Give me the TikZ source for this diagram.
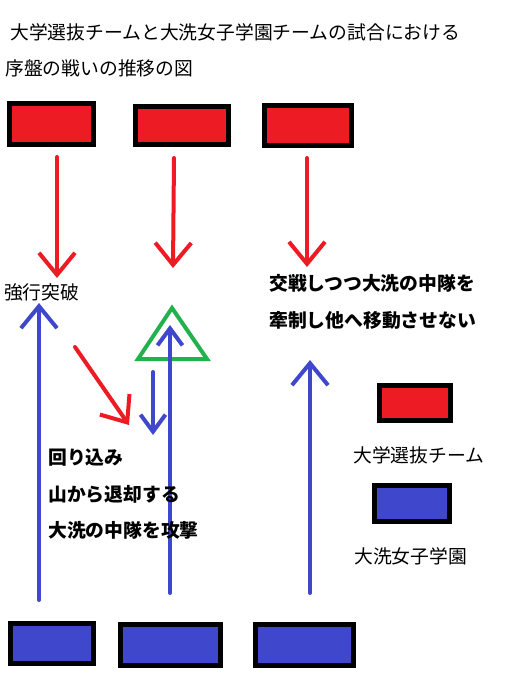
\documentclass[tikz,border=0pt]{standalone}
\usepackage{fontspec}
\setmainfont{Noto Sans CJK JP}
\usetikzlibrary{arrows.meta,positioning}
\definecolor{paintred}{RGB}{237,28,36}
\definecolor{paintblue}{RGB}{63,72,204}
\definecolor{paintgreen}{RGB}{34,177,76}

\begin{document}
\begin{tikzpicture}[x=1pt,y=-1pt]
 % one unit = one pixel of the sketch, y runs downwards
\tikzset{every node/.style={inner sep=0pt, font=\fontsize{18.8}{20}\selectfont}}
\tikzset{teambox/.style={draw=black, line width=5pt, rectangle}, unibox/.style={teambox, fill=paintred}, oaraibox/.style={teambox, fill=paintblue}}
\tikzset{move/.style={line width=4pt, line cap=round, -{Straight Barb[length=22pt,width=36pt,line width=4pt]}}, redmove/.style={move, draw=paintred}, bluemove/.style={move, draw=paintblue}, shortmove/.style={-{Straight Barb[length=17pt,width=25pt,line width=4pt]}}}
\tikzset{label/.style={anchor=west}, boldlabel/.style={anchor=west, font=\fontsize{18.8}{20}\selectfont\bfseries}}
\useasboundingbox[fill=white] (0,0) rectangle (527,683);

% title
\node[label] (title1) at (10,32) {大学選抜チームと大洗女子学園チームの試合における};
\node[label] (title2) at (5,68) {序盤の戦いの推移の図};

% teams
\node[unibox, minimum width=84pt, minimum height=41pt] (u1) at (51.5,124) {};
\node[unibox, minimum width=93pt, minimum height=38pt] (u2) at (182,125.5) {};
\node[unibox, minimum width=87pt, minimum height=40pt] (u3) at (308,125.5) {};
\node[oaraibox, minimum width=83pt, minimum height=40pt] (o1) at (52,643.5) {};
\node[oaraibox, minimum width=100pt, minimum height=41pt] (o2) at (170.5,645) {};
\node[oaraibox, minimum width=98pt, minimum height=41pt] (o3) at (304.5,645) {};

% arrow ends
\coordinate (u1s) at (57,157); \coordinate (u1e) at (57,278);
\coordinate (u2s) at (174,158); \coordinate (u2e) at (173,268);
\coordinate (u3s) at (307,158); \coordinate (u3e) at (307,267);
\coordinate (rds) at (75,347); \coordinate (rde) at (129,425);
\coordinate (o1s) at (39,600); \coordinate (o1e) at (39,303);
\coordinate (o2s) at (170,593); \coordinate (o2e) at (170,325);
\coordinate (bks) at (153,372); \coordinate (bke) at (153,435);
\coordinate (o3s) at (310,593); \coordinate (o3e) at (310,360);

\draw[paintgreen, line width=4pt] (172,308) -- (138,359) -- (207,359) -- cycle;

\draw[redmove] (u1s) -- (u1e);
\draw[redmove] (u2s) -- (u2e);
\draw[redmove] (u3s) -- (u3e);
\draw[redmove] (rds) -- (rde);
\draw[bluemove] (o1s) -- (o1e);
\draw[bluemove, shortmove] (o2s) -- (o2e);
\draw[bluemove, shortmove] (bks) -- (bke);
\draw[bluemove] (o3s) -- (o3e);

% notes
\node[label] (breach) at (4,292) {強行突破};
\node[boldlabel] (hold1) at (269,283) {交戦しつつ大洗の中隊を};
\node[boldlabel] (hold2) at (269,320) {牽制し他へ移動させない};
\node[boldlabel] (flank1) at (48,458) {回り込み};
\node[boldlabel] (flank2) at (48,494) {山から退却する};
\node[boldlabel] (flank3) at (48,530) {大洗の中隊を攻撃};

% legend
\node[unibox, minimum width=71pt, minimum height=35pt] (keyu) at (415,403) {};
\node[label] (keyutext) at (353,455) {大学選抜チーム};
\node[oaraibox, minimum width=75pt, minimum height=36pt] (keyo) at (412,503.5) {};
\node[label] (keyotext) at (354,556) {大洗女子学園};
\end{tikzpicture}
\end{document}
